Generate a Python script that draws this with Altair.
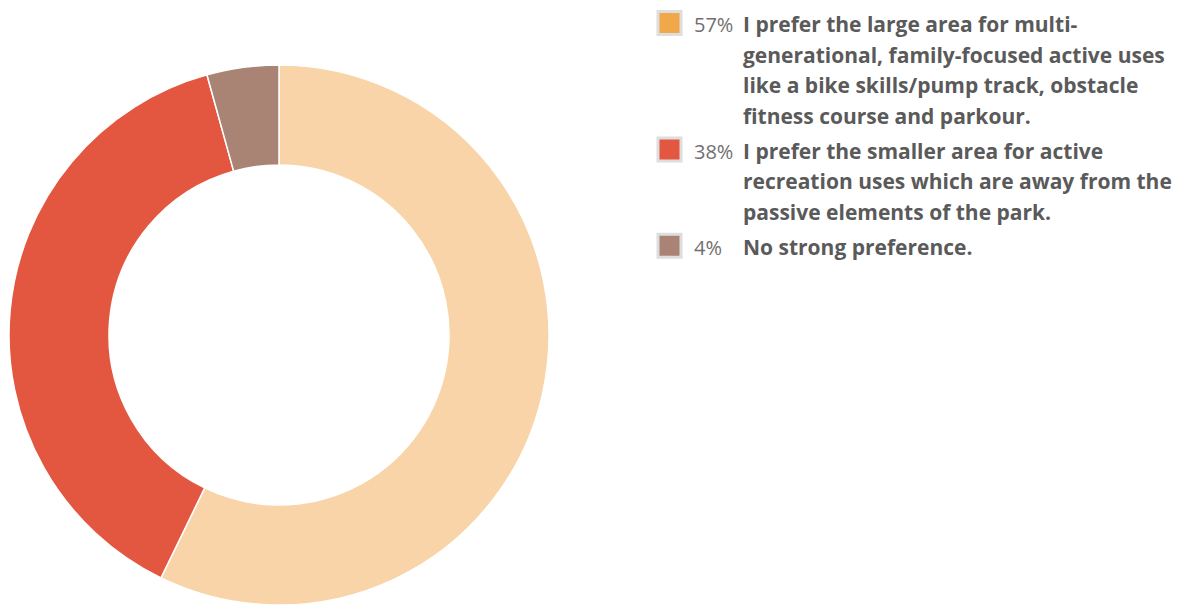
import altair as alt
import pandas as pd

# Data
answers = [
    "I prefer the large area for multi-generational, family-focused active uses like a bike skills/pump track, obstacle fitness course and parkour.",
    "I prefer the smaller area for active recreation uses which are away from the passive elements of the park.",
    "No strong preference.",
]
shares = [57.2, 38.5, 4.3]
pct_labels = ["57%", "38%", "4%"]
legend_lines = [
    ["I prefer the large area for multi-", "generational, family-focused active uses",
     "like a bike skills/pump track, obstacle", "fitness course and parkour."],
    ["I prefer the smaller area for active", "recreation uses which are away from the",
     "passive elements of the park."],
    ["No strong preference."],
]
pie_colors = ["#F8D4A8", "#E35640", "#A98474"]
swatch_colors = ["#F0A84A", "#E35640", "#A98474"]

pie_df = pd.DataFrame({"answer": answers, "share": shares, "order": [0, 1, 2]})

rows = []
pos = 0.0
for i, lines in enumerate(legend_lines):
    for j, ln in enumerate(lines):
        rows.append({"item": i, "line": j, "text": ln, "pos": pos,
                     "pct": pct_labels[i] if j == 0 else "",
                     "swatch": swatch_colors[i]})
        pos += 1
    pos += 0.15
leg_df = pd.DataFrame(rows)
first_df = leg_df[leg_df["line"] == 0]

FONT = "Open Sans"
yscale = alt.Scale(domain=[0, 10], range=[24, 329])

pie = alt.Chart(pie_df).mark_arc(
    innerRadius=170, outerRadius=270, stroke="white", strokeWidth=1.5
).encode(
    theta=alt.Theta("share:Q", stack=True),
    color=alt.Color("answer:N", scale=alt.Scale(domain=answers, range=pie_colors), legend=None),
    order=alt.Order("order:Q"),
    x=alt.value(271),
    y=alt.value(327),
)

swatch = alt.Chart(first_df).mark_square(
    size=529, opacity=1, filled=True, stroke="#DEDEDE", strokeWidth=3, yOffset=-9
).encode(
    x=alt.value(661.5),
    y=alt.Y("pos:Q", scale=yscale, axis=None),
    fill=alt.Fill("swatch:N", scale=None),
)

pct = alt.Chart(first_df).mark_text(
    align="left", baseline="alphabetic", font=FONT, fontSize=20, color="#707070"
).encode(
    x=alt.value(686),
    y=alt.Y("pos:Q", scale=yscale, axis=None),
    text="pct:N",
)

label = alt.Chart(leg_df).mark_text(
    align="left", baseline="alphabetic", font=FONT, fontSize=21, fontWeight="bold", color="#5A5A5A"
).encode(
    x=alt.value(735),
    y=alt.Y("pos:Q", scale=yscale, axis=None),
    text="text:N",
)

chart = alt.layer(pie, swatch, pct, label).properties(
    width=1165, height=599, padding=0, autosize=alt.AutoSizeParams(type="none")
).configure_view(stroke=None)

chart.save("out.html", embed_options={"renderer": "svg", "actions": False})
